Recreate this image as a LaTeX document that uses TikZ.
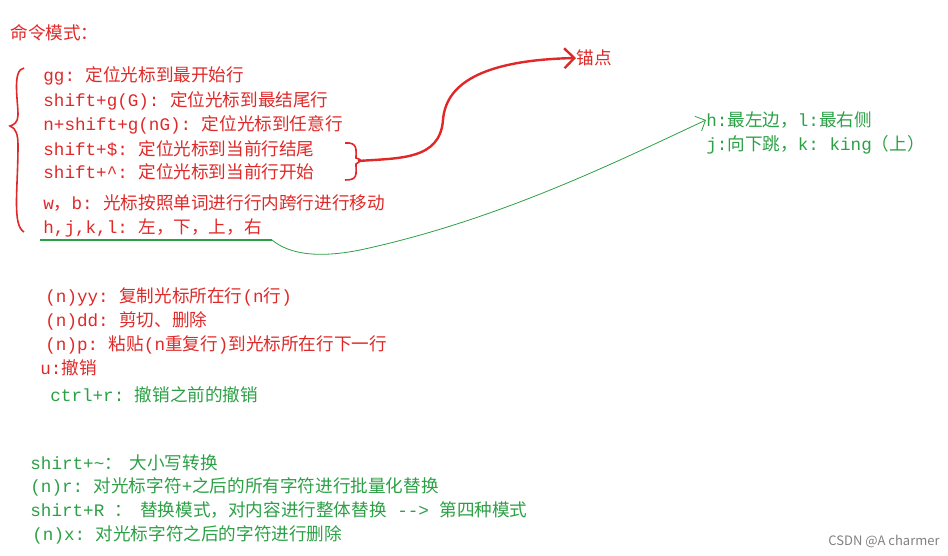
\documentclass[tikz,border=0pt]{standalone}
\usepackage{fontspec}
\setmainfont{Noto Sans CJK SC}
\setmonofont{Liberation Mono}
\newcommand{\lt}[1]{{\ttfamily #1}}
\definecolor{vired}{HTML}{E02828}
\definecolor{vigreen}{HTML}{2BA045}
\usetikzlibrary{arrows.meta}
\tikzset{
  redline/.style={anchor=west, text=vired, inner sep=0pt, font=\fontsize{8.8}{10}\selectfont},
  greenline/.style={anchor=west, text=vigreen, inner sep=0pt, font=\fontsize{8.8}{10}\selectfont},
}
\begin{document}
\begin{tikzpicture}[x=0.5pt, y=-0.5pt]
  \useasboundingbox (0,0) rectangle (948,556);
  % title
  \node[redline] (title) at (10,33) {命令模式：};

  % cursor movement
  \node[redline] (gg) at (43,76) {\lt{gg: }定位光标到最开始行};
  \node[redline] (sg) at (43,101) {\lt{shift+g(G): }定位光标到最结尾行};
  \node[redline] (ng) at (43,125) {\lt{n+shift+g(nG): }定位光标到任意行};
  \node[redline] (send) at (43,149) {\lt{shift+\$: }定位光标到当前行结尾};
  \node[redline] (sbeg) at (43,172) {\lt{shift+\^{}: }定位光标到当前行开始};
  \node[redline] (wb) at (43,203) {\lt{w}，\lt{b: }光标按照单词进行行内跨行进行移动};
  \node[redline] (hjkl) at (43,228) {\lt{h,j,k,l: }左，下，上，右};

  % big brace
  \draw[vired, thick] (24,68) .. controls (12,70) and (18,100) .. (18,115)
    .. controls (18,122) and (14,125) .. (10,126)
    .. controls (16,128) and (18,135) .. (18,145)
    .. controls (18,190) and (12,225) .. (24,232);
  % small brace and arrow to anchor
  \draw[vired, thick] (345,143) .. controls (358,142) and (356,150) .. (356,158)
    .. controls (362,160) .. (356,164)
    .. controls (356,175) and (358,180) .. (345,180);
  \coordinate (bracetip) at (358,161);
  \node[redline] (anchor) at (576,58) {锚点};
  \draw[vired, very thick, -{Straight Barb[length=5pt]}] (bracetip)
    .. controls (400,158) and (440,160) .. (443,120)
    .. controls (446,80) and (490,60) .. (anchor.west);

  % underline and link to hjkl notes
  \coordinate (ulstart) at (40,240);
  \coordinate (ulend) at (272,240);
  \draw[vigreen, thick] (ulstart) -- (ulend);
  \node[greenline] (hl) at (706,120) {\lt{h:}最左边，\lt{l:}最右侧};
  \node[greenline] (jk) at (706,145) {\lt{j:}向下跳，\lt{k: king}（上）};
  \draw[vigreen, -{Straight Barb[length=4pt]}] (ulend)
    .. controls (290,255) and (320,258) .. (360,250)
    .. controls (500,220) and (620,160) .. (hl.west);

  % copy / paste
  \node[redline] (yy) at (45,297) {\lt{(n)yy: }复制光标所在行\lt{(n}行\lt{)}};
  \node[redline] (dd) at (45,321) {\lt{(n)dd: }剪切、删除};
  \node[redline] (pp) at (45,345) {\lt{(n)p: }粘贴\lt{(n}重复行\lt{)}到光标所在行下一行};
  \node[redline] (uu) at (40,368) {\lt{u:}撤销};
  \node[greenline] (redo) at (50,395) {\lt{ctrl+r: }撤销之前的撤销};

  % replace / delete
  \node[greenline] (case) at (30,463) {\lt{shirt+\~{}}：\ \ 大小写转换};
  \node[greenline] (rr) at (30,487) {\lt{(n)r: }对光标字符\lt{+}之后的所有字符进行批量化替换};
  \node[greenline] (RR) at (30,510) {\lt{shirt+R }：\ \ 替换模式，对内容进行整体替换\lt{ --> }第四种模式};
  \node[greenline] (xx) at (32,535) {\lt{(n)x: }对光标字符之后的字符进行删除};

  \node[anchor=east, text=gray, inner sep=0pt, font=\fontsize{6.5}{8}\selectfont] (mark) at (940,541) {CSDN @A charmer};
\end{tikzpicture}
\end{document}
